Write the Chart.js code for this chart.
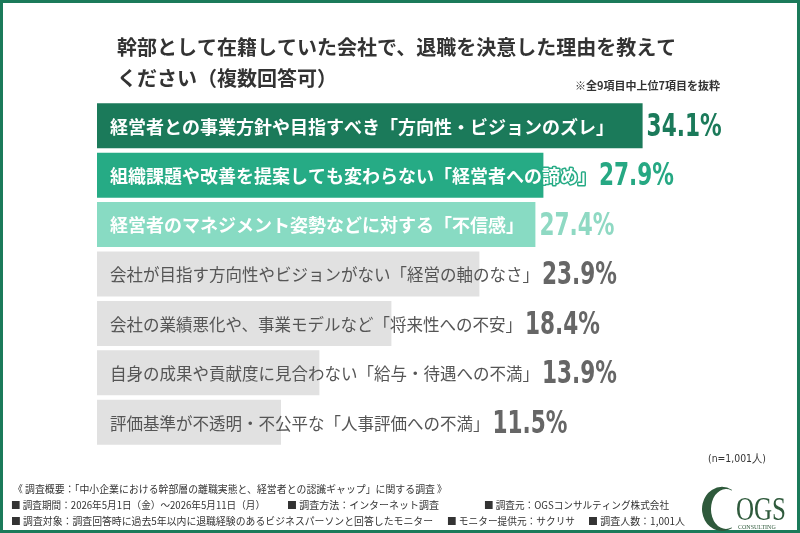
<!DOCTYPE html>
<html lang="ja">
<head>
<meta charset="utf-8">
<script src="https://cdn.jsdelivr.net/npm/chart.js@4"></script>
<style>
  html, body { margin: 0; padding: 0; background: #fff; }
  canvas { display: block; }
</style>
</head>
<body>
<canvas id="chart" width="800" height="533"></canvas>
<script>
const categories = [
  "経営者との事業方針や目指すべき「方向性・ビジョンのズレ」",
  "組織課題や改善を提案しても変わらない「経営者への諦め」",
  "経営者のマネジメント姿勢などに対する「不信感」",
  "会社が目指す方向性やビジョンがない「経営の軸のなさ」",
  "会社の業績悪化や、事業モデルなど「将来性への不安」",
  "自身の成果や貢献度に見合わない「給与・待遇への不満」",
  "評価基準が不透明・不公平な「人事評価への不満」",
];
const values = [34.1, 27.9, 27.4, 23.9, 18.4, 13.9, 11.5];

const titleLines = [
  "幹部として在籍していた会社で、退職を決意した理由を教えて",
  "ください（複数回答可）",
];
const noteText = "※全9項目中上位7項目を抜粋";
const sampleText = "(n=1,001人)";
const footerLines = [
  ["《 調査概要：「中小企業における幹部層の離職実態と、経営者との認識ギャップ」に関する調査 》"],
  ["■ 調査期間：2026年5月1日（金）～2026年5月11日（月）", "■ 調査方法：インターネット調査", "■ 調査元：OGSコンサルティング株式会社"],
  ["■ 調査対象：調査回答時に過去5年以内に退職経験のあるビジネスパーソンと回答したモニター", "■ モニター提供元：サクリサ", "■ 調査人数：1,001人"],
];

// styles
const barColors = ["#1b7a5a", "#26ab85", "#88dbc3", "#e1e1e1", "#e1e1e1", "#e1e1e1", "#e1e1e1"];
const pctColors = ["#1b7a5a", "#26a883", "#8fd9c3", "#666666", "#666666", "#666666", "#666666"];
const green = "#1b7a5a";
const jp = '"Noto Sans CJK JP", "Noto Sans", sans-serif';
const narrow = '"Liberation Sans Narrow", "DejaVu Sans Condensed", "DejaVu Sans", sans-serif';

// footer layout: [x, maxWidth] per segment
const footerSlots = [
  [[13, 434]],
  [[11, 254], [287, 152], [484, 185]],
  [[11, 422], [447, 128], [588, 97]],
];
const footerY = [489, 505, 521];

const labelsPlugin = {
  id: "labels",
  afterDatasetsDraw(chart) {
    const ctx = chart.ctx;
    const x = chart.scales.x;
    const y = chart.scales.y;
    ctx.save();
    ctx.textBaseline = "middle";
    ctx.lineJoin = "round";
    categories.forEach((cat, i) => {
      const cy = y.getPixelForValue(i);
      const strong = i < 3;
      ctx.font = (strong ? "bold 18px " : "16.5px ") + jp;
      ctx.textAlign = "left";
      const tx = x.getPixelForValue(0) + 13;
      if (strong) {
        ctx.strokeStyle = barColors[i];
        ctx.lineWidth = 3;
        ctx.strokeText(cat, tx, cy + 1);
      }
      ctx.fillStyle = strong ? "#ffffff" : "#555555";
      ctx.fillText(cat, tx, cy + 1);
      const textEnd = tx + ctx.measureText(cat).width;
      const barEnd = x.getPixelForValue(values[i]);
      const px = Math.max(barEnd + 4, textEnd + 3);
      const pct = values[i].toFixed(1) + "%";
      ctx.font = "bold 32px " + narrow;
      ctx.fillStyle = pctColors[i];
      const w = ctx.measureText(pct).width;
      ctx.fillText(pct, px, cy + 2, Math.min(w, 75));
    });
    ctx.restore();
  },
  afterDraw(chart) {
    const ctx = chart.ctx;
    ctx.save();
    // frame
    ctx.strokeStyle = green;
    ctx.lineWidth = 3;
    ctx.strokeRect(1.5, 1.5, 797, 530);

    // title
    ctx.fillStyle = "#333333";
    ctx.textBaseline = "middle";
    ctx.textAlign = "left";
    ctx.font = "bold 20px " + jp;
    ctx.fillText(titleLines[0], 117, 47);
    ctx.fillText(titleLines[1], 117, 78);

    ctx.font = "bold 11px " + jp;
    ctx.textAlign = "right";
    ctx.fillText(noteText, 720, 86, 150);

    ctx.font = "11px " + narrow;
    ctx.fillText(sampleText, 766, 459, 58);

    // footer
    ctx.textAlign = "left";
    ctx.font = "10px " + jp;
    ctx.fillStyle = "#333333";
    footerLines.forEach((line, r) => {
      line.forEach((seg, k) => {
        const [fx, fw] = footerSlots[r][k];
        ctx.fillText(seg, fx, footerY[r], fw);
      });
    });

    // logo
    ctx.fillStyle = "#2f5a3c";
    ctx.beginPath();
    ctx.ellipse(722, 509, 20, 22, 0, Math.PI * 0.33, Math.PI * 1.67, false);
    ctx.ellipse(726, 509, 15, 20, 0, Math.PI * 1.62, Math.PI * 0.38, true);
    ctx.closePath();
    ctx.fill();
    ctx.textBaseline = "alphabetic";
    ctx.font = "34px \"Liberation Serif\", \"DejaVu Serif\", serif";
    ctx.fillText("OGS", 736, 520, 50);
    ctx.font = "6px \"Liberation Serif\", \"DejaVu Serif\", serif";
    ctx.fillText("CONSULTING", 738, 529, 47);
    ctx.restore();
  },
};

new Chart(document.getElementById("chart"), {
  type: "bar",
  data: {
    labels: categories,
    datasets: [{
      data: values,
      backgroundColor: barColors,
      borderWidth: 0,
      categoryPercentage: 1,
      barPercentage: 0.91,
    }],
  },
  options: {
    indexAxis: "y",
    responsive: false,
    animation: false,
    devicePixelRatio: 1,
    layout: { padding: { left: 97, right: 63, top: 101, bottom: 86 } },
    scales: {
      x: { display: false, min: 0, max: 40 },
      y: { display: false },
    },
    plugins: {
      legend: { display: false },
      tooltip: { enabled: false },
    },
  },
  plugins: [labelsPlugin],
});
</script>
</body>
</html>
